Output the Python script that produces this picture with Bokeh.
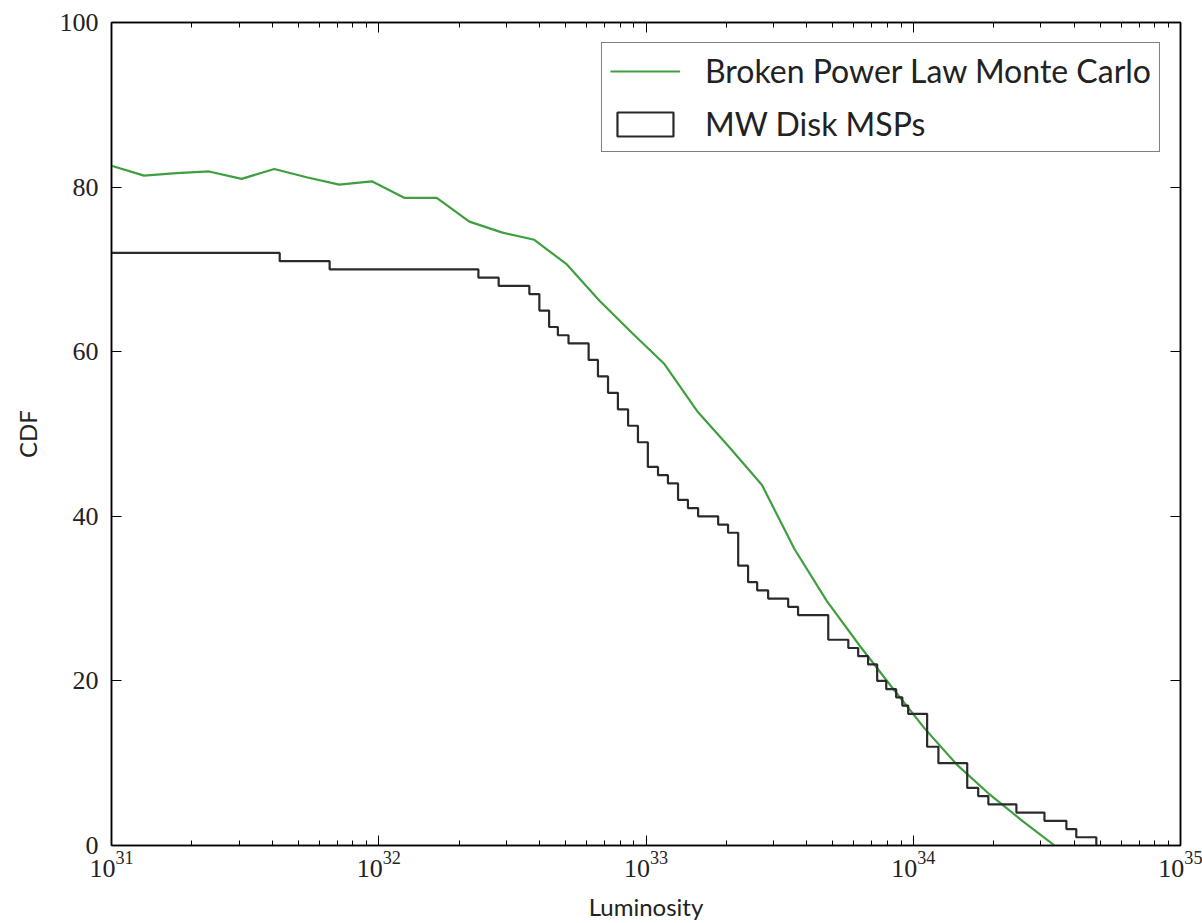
from bokeh.plotting import figure
from bokeh.models import (LogAxis, LinearAxis, FixedTicker, LogTickFormatter,
                          ColumnDataSource, Legend, LegendItem, CustomJSTickFormatter, Range1d)
from bokeh.embed import file_html
from bokeh.resources import INLINE

# Broken power law Monte Carlo CDF (luminosity, CDF value)
mc_lum = [1.000e31, 1.324e31, 1.750e31, 2.317e31, 3.069e31, 4.064e31, 5.370e31, 7.112e31,
          9.419e31, 1.245e32, 1.648e32, 2.183e32, 2.884e32, 3.819e32, 5.058e32, 6.699e32,
          8.851e32, 1.172e33, 1.552e33, 2.051e33, 2.716e33, 3.597e33, 4.753e33, 6.295e33,
          8.337e33, 1.104e34, 1.459e34, 1.932e34, 2.559e34, 3.381e34]
mc_cdf = [82.6, 81.4, 81.7, 81.9, 81.0, 82.2, 81.2, 80.3,
          80.7, 78.7, 78.7, 75.8, 74.5, 73.6, 70.6, 66.2,
          62.3, 58.5, 52.8, 48.4, 43.8, 36.0, 29.7, 24.3,
          19.2, 14.2, 9.8, 6.2, 3.0, 0.0]

# MW disk MSPs: step edges (luminosity) and count above each edge
msp_edges = [1.00e31, 4.26e31, 6.55e31, 2.36e32, 2.81e32, 3.66e32, 3.99e32, 4.34e32,
             4.68e32, 5.13e32, 6.10e32, 6.61e32, 7.21e32, 7.85e32, 8.57e32, 9.33e32,
             1.016e33, 1.109e33, 1.208e33, 1.318e33, 1.435e33, 1.567e33, 1.862e33, 2.028e33,
             2.213e33, 2.410e33, 2.606e33, 2.864e33, 3.404e33, 3.707e33, 4.808e33, 5.715e33,
             6.223e33, 6.776e33, 7.328e33, 7.925e33, 8.630e33, 9.099e33, 9.572e33, 1.127e34,
             1.242e34, 1.592e34, 1.750e34, 1.910e34, 2.432e34, 3.097e34, 3.741e34, 4.074e34,
             4.842e34]
msp_counts = [72, 71, 70, 69, 68, 67, 65, 63, 62, 61, 59, 57, 55, 53, 51, 49,
              46, 45, 44, 42, 41, 40, 39, 38, 34, 32, 31, 30, 29, 28, 25, 24,
              23, 22, 20, 19, 18, 17, 16, 12, 10, 7, 6, 5, 4, 3, 2, 1]

x_major = [1e31, 1e32, 1e33, 1e34, 1e35]
y_major = [0, 20, 40, 60, 80, 100]
x_minor = [m * d for d in [1e31, 1e32, 1e33, 1e34] for m in range(2, 10)]

SERIF = "Liberation Serif"
SANS = "Lato"

p = figure(width=1202, height=923, x_axis_type="log",
           x_range=Range1d(1e31, 1e35), y_range=Range1d(0, 100),
           output_backend="svg", toolbar_location=None,
           min_border_left=111, min_border_right=22, min_border_top=22, min_border_bottom=73)
p.background_fill_color = "white"
p.border_fill_color = "white"
p.outline_line_color = "black"
p.outline_line_width = 1.5
p.xgrid.visible = False
p.ygrid.visible = False

xt = FixedTicker(ticks=x_major, minor_ticks=x_minor)
yt = FixedTicker(ticks=y_major, minor_ticks=[])

xa = p.xaxis[0]
xa.ticker = xt
xa.formatter = LogTickFormatter()
ya = p.yaxis[0]
ya.ticker = yt

for ax in (xa, ya):
    ax.major_tick_in = 10
    ax.major_tick_out = 0
    ax.minor_tick_in = 5
    ax.minor_tick_out = 0
    ax.axis_line_color = "black"
    ax.axis_line_width = 1.5
    ax.major_tick_line_color = "black"
    ax.minor_tick_line_color = "black"
    ax.major_label_text_font = SERIF
    ax.major_label_text_font_size = "26px"
    ax.major_label_text_color = "#222222"
    ax.axis_label_text_font = SANS
    ax.axis_label_text_font_style = "normal"
    ax.axis_label_text_font_size = "24px"
    ax.axis_label_text_color = "#222222"

xa.axis_label = "Luminosity"
xa.major_label_standoff = 6
xa.axis_label_standoff = 12
ya.axis_label = "CDF"
ya.major_label_standoff = 13
ya.axis_label_standoff = 15

blank = CustomJSTickFormatter(code="return ''")
top = LogAxis(ticker=xt, formatter=blank)
right = LinearAxis(ticker=yt, formatter=blank)
for ax in (top, right):
    ax.major_tick_in = 10
    ax.major_tick_out = 0
    ax.minor_tick_in = 5
    ax.minor_tick_out = 0
    ax.axis_line_color = "black"
    ax.axis_line_width = 1.5
    ax.major_label_standoff = 0
p.add_layout(top, "above")
p.add_layout(right, "right")

green = p.line(mc_lum, mc_cdf, line_color="#3f9f3f", line_width=2.2)
step = p.step(msp_edges, msp_counts + [0], mode="after",
              line_color="#2a2a2a", line_width=2.2)

nan = float("nan")
proxy = p.quad(left=[nan], right=[nan], top=[nan], bottom=[nan], fill_alpha=0,
               line_color="#2a2a2a", line_width=2.2)

legend = Legend(items=[LegendItem(label="Broken Power Law Monte Carlo", renderers=[green]),
                       LegendItem(label="MW Disk MSPs", renderers=[proxy])],
                location="top_right")
legend.margin = 20
legend.padding = 8
legend.spacing = 14
legend.glyph_width = 70
legend.glyph_height = 30
legend.label_height = 30
legend.label_standoff = 25
legend.label_text_font = SANS
legend.label_text_font_size = "32px"
legend.label_text_color = "#222222"
legend.border_line_color = "black"
legend.border_line_width = 1.5
legend.background_fill_alpha = 1.0
p.add_layout(legend)

open("out.html", "w").write(file_html(p, INLINE))
